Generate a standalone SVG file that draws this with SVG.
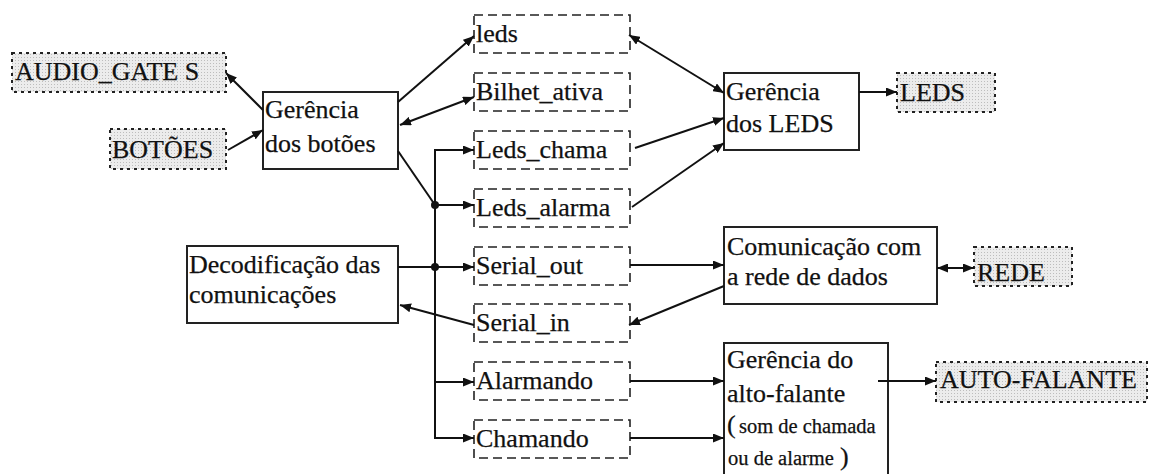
<svg xmlns="http://www.w3.org/2000/svg" width="1150" height="474" viewBox="0 0 1150 474">
<style>
text{font-family:'Liberation Serif','Times New Roman',Tinos,'DejaVu Serif','Noto Serif',serif;font-size:26px;fill:#111;stroke:#111;stroke-width:0.25}
.small{font-size:20.5px}
.box{fill:#fff;stroke:#222;stroke-width:2}
.dash{fill:none;stroke:#222;stroke-width:1.6;stroke-dasharray:9 5}
.dot{fill:url(#stip);stroke:#222;stroke-width:2;stroke-dasharray:3 4}
.ln{fill:none;stroke:#111;stroke-width:2}
.arr{marker-end:url(#ah)}
.both{marker-end:url(#ah);marker-start:url(#ah)}
</style>
<defs>
<pattern id="stip" width="3" height="3" patternUnits="userSpaceOnUse">
<rect width="3" height="3" fill="#ececec"/>
<rect width="1" height="1" fill="#bdbdbd"/>
</pattern>
<marker id="ah" markerUnits="userSpaceOnUse" markerWidth="11" markerHeight="9" refX="11" refY="4.5" orient="auto-start-reverse">
<path d="M0,0 L11,4.5 L0,9 z" fill="#111"/>
</marker>
</defs>
<rect width="1150" height="474" fill="#fff"/>

<g id="audio_gates"><rect class="dot" x="12" y="53" width="214" height="39"/><text x="15" y="80">AUDIO_GATE S</text></g>
<g id="botoes"><rect class="dot" x="110" y="129" width="116" height="40"/><text x="112" y="158">BOTÕES</text></g>
<g id="gerencia_botoes"><rect class="box" x="263" y="92" width="135" height="77"/><text x="265" y="118">Gerência</text><text x="265" y="152">dos botões</text></g>
<g id="decodificacao"><rect class="box" x="187" y="246" width="211" height="77"/><text x="189" y="273">Decodificação das</text><text x="189" y="303">comunicações</text></g>

<g id="leds"><rect class="dash" x="474" y="15" width="156" height="38"/><text x="476" y="42">leds</text></g>
<g id="bilhet_ativa"><rect class="dash" x="474" y="73" width="156" height="38"/><text x="476" y="100">Bilhet_ativa</text></g>
<g id="leds_chama"><rect class="dash" x="474" y="131" width="156" height="38"/><text x="476" y="158">Leds_chama</text></g>
<g id="leds_alarma"><rect class="dash" x="474" y="189" width="156" height="38"/><text x="476" y="216">Leds_alarma</text></g>
<g id="serial_out"><rect class="dash" x="474" y="247" width="156" height="38"/><text x="476" y="274">Serial_out</text></g>
<g id="serial_in"><rect class="dash" x="474" y="304" width="156" height="38"/><text x="476" y="331">Serial_in</text></g>
<g id="alarmando"><rect class="dash" x="474" y="362" width="156" height="38"/><text x="476" y="389">Alarmando</text></g>
<g id="chamando"><rect class="dash" x="474" y="420" width="156" height="38"/><text x="476" y="447">Chamando</text></g>

<g id="gerencia_leds"><rect class="box" x="724" y="73" width="135" height="77"/><text x="726" y="100">Gerência</text><text x="726" y="132">dos LEDS</text></g>
<g id="leds_out"><rect class="dot" x="897" y="73" width="98" height="39"/><text x="900" y="101">LEDS</text></g>
<g id="comunicacao"><rect class="box" x="724" y="227" width="213" height="77"/><text x="727" y="255">Comunicação com</text><text x="727" y="285">a rede de dados</text></g>
<g id="rede"><rect class="dot" x="974" y="247" width="98" height="39"/><text x="977" y="281">REDE</text></g>
<g id="alto_falante"><rect class="box" x="724" y="343" width="164" height="140"/><text x="727" y="368">Gerência do</text><text x="727" y="402">alto-falante</text><text x="727" y="433">(</text><text class="small" x="739" y="433">som de chamada</text><text class="small" x="728" y="465">ou de alarme</text><text x="840" y="465">)</text></g>
<g id="auto_falante"><rect class="dot" x="936" y="362" width="211" height="40"/><text x="940" y="388">AUTO-FALANTE</text></g>

<g id="connectors">
<line class="ln arr" x1="263" y1="110" x2="226" y2="73"/>
<line class="ln arr" x1="228" y1="150" x2="263" y2="130"/>
<line class="ln arr" x1="398" y1="102" x2="474" y2="36"/>
<line class="ln both" x1="400" y1="125" x2="474" y2="97"/>
<line class="ln" x1="398" y1="151" x2="435" y2="205"/>
<line class="ln" x1="435" y1="150" x2="435" y2="439"/>
<line class="ln arr" x1="434" y1="150" x2="474" y2="150"/>
<line class="ln arr" x1="435" y1="205" x2="474" y2="205"/>
<line class="ln arr" x1="398" y1="267" x2="474" y2="267"/>
<line class="ln arr" x1="434" y1="382" x2="474" y2="382"/>
<line class="ln arr" x1="434" y1="438" x2="474" y2="438"/>
<circle cx="435" cy="205" r="4" fill="#111"/>
<circle cx="435" cy="267" r="4" fill="#111"/>
<line class="ln arr" x1="474" y1="325" x2="400" y2="305"/>
<line class="ln both" x1="629" y1="35" x2="724" y2="93"/>
<line class="ln arr" x1="635" y1="148" x2="724" y2="118"/>
<line class="ln arr" x1="632" y1="207" x2="724" y2="143"/>
<line class="ln arr" x1="859" y1="92" x2="897" y2="92"/>
<line class="ln arr" x1="630" y1="265" x2="724" y2="265"/>
<line class="ln arr" x1="724" y1="286" x2="629" y2="325"/>
<line class="ln both" x1="937" y1="268" x2="974" y2="268"/>
<line class="ln arr" x1="630" y1="381" x2="724" y2="381"/>
<line class="ln arr" x1="630" y1="438" x2="724" y2="438"/>
<line class="ln arr" x1="878" y1="381" x2="936" y2="381"/>
</g>
</svg>
